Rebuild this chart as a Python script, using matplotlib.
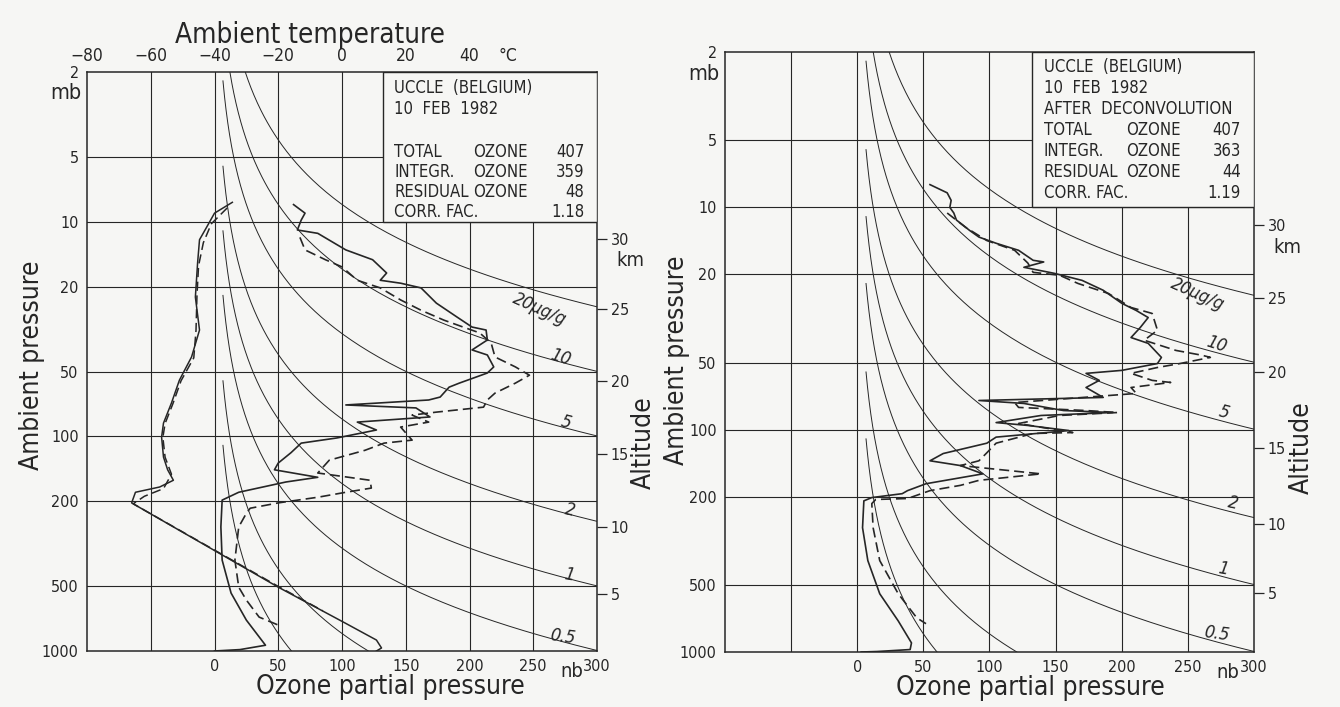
import numpy as np
import matplotlib.pyplot as plt
from matplotlib.patches import Rectangle
from matplotlib.ticker import NullLocator

plt.rcParams['font.family'] = ['DejaVu Sans']
plt.rcParams['font.stretch'] = 'condensed'

# ============================================================
# DATA
# ============================================================

P_TICKS = [2, 5, 10, 20, 50, 100, 200, 500, 1000]
OZ_TICKS = [0, 50, 100, 150, 200, 250, 300]
T_TICKS = [-80, -60, -40, -20, 0, 20, 40]
ALT_KM = [5, 10, 15, 20, 25, 30]
ALT_P = [540, 265, 121, 55, 25.5, 12]
MIX_RATIOS = [20, 10, 5, 2, 1, 0.5, 0.2, 0.1]
MIX_LABELS = ['20µg/g', '10', '5', '2', '1', '0.5']

# left panel - temperature (mb, degC)
TEMP_P_SOLID = [8.1, 9.1, 10.6, 12.1, 15.5, 22.4, 31.9, 42.6, 54.6, 69.8, 86.6,
                100.7, 124.8, 143, 160, 172, 182, 204, 504, 741, 889, 968, 1000]
TEMP_C_SOLID = [-34.4, -40, -42.5, -44.7, -45.3, -46, -44.7, -47.2, -51, -53.5, -56,
                -56.6, -56, -54.7, -52.9, -57.2, -64.8, -66, -20, 1, 10.8, 12.4, 10.8]
TEMP_P_DASH = [8.6, 10.2, 12.5, 16, 22, 32, 43, 55, 70, 87, 101, 125, 150, 175,
               190, 206, 500, 650]
TEMP_C_DASH = [-36, -41, -43.5, -45, -45.5, -45.8, -46.5, -50.5, -53, -55.5, -56.2,
               -55.5, -53.5, -56, -62, -65.5, -20, -6]

# left panel - ozone before deconvolution (mb, nb)
O3L_P_SOLID = [8.3, 9.1, 9.8, 10.9, 11.3, 13.5, 15.0, 17.3, 18.7, 19.3, 20.3, 23.9,
               27.7, 30.9, 31.9, 35.5, 39.5, 41.7, 47.4, 50.6, 56.4, 58.9, 65.5,
               67.6, 71.3, 73.6, 81.1, 85.7, 93.3, 101.6, 107.4, 119, 133, 143,
               155, 163, 182, 198, 264, 377, 537, 718, 940, 985, 1000]
O3L_SOLID = [62, 71, 68, 65, 81, 103, 124, 135, 130, 146, 162, 174,
             190, 202, 213, 214, 202, 214, 219, 214, 192, 184, 177,
             168, 103, 158, 169, 112, 127, 96, 68, 60, 50, 47,
             81, 56, 19, 6, 5, 6, 13, 25, 40, 20, 0]
O3L_P_DASH = [11.8, 13.5, 15.0, 16.2, 18.7, 20.3, 23.1, 25.8, 28.7, 30.9, 32.9,
              36.7, 42.6, 47.4, 51.8, 56.4, 62.8, 67.6, 73, 77, 79.5, 85.7, 90.4,
              104, 107.4, 116, 129, 148, 160, 174, 182, 192, 204, 216, 228, 264,
              377, 504, 579, 695, 757]
O3L_DASH = [67, 71, 87, 100, 112, 130, 146, 162, 180, 195, 208,
            217, 220, 236, 247, 236, 220, 214, 211, 174, 155, 168, 146,
            155, 133, 118, 90, 81, 122, 123, 103, 81, 50, 28, 25, 19,
            16, 19, 25, 35, 50]

# right panel - ozone after deconvolution (mb, nb)
O3R_P_SOLID = [7.9, 8.6, 9.3, 10.0, 10.6, 11.4, 12.7, 13.6, 14.5, 15.6, 17.3, 17.6,
               18.6, 19.8, 21.3, 23.6, 27.0, 29.1, 31.3, 34.7, 38.5, 40.9, 47.3,
               50.4, 54.1, 55.8, 60.0, 64.6, 71.6, 73.9, 76.2, 82.0, 83.7, 86.3,
               92.9, 95.7, 100.9, 108, 115, 128, 138, 145, 158, 175, 188, 194,
               202, 209, 276, 388, 547, 725, 910, 975, 995, 1000]
O3R_SOLID = [55, 68, 71, 70, 73, 75, 85, 92, 105, 122, 133, 141,
             126, 149, 170, 186, 200, 211, 220, 214, 207, 220, 230,
             227, 200, 173, 183, 173, 186, 92, 126, 156, 193, 139,
             105, 129, 160, 105, 98, 65, 55, 78, 95, 52, 38, 34,
             11, 5, 4, 8, 17, 31, 41, 40, 15, 3]
O3R_P_DASH = [10.6, 12.3, 14.1, 15.6, 17.8, 19.6, 20.2, 22.0, 24.4, 28.2, 30.0,
              35.7, 39.6, 44.0, 46.3, 47.3, 50.4, 52.5, 55.8, 60.0, 61.3, 64.6,
              68.7, 75.5, 79.4, 82.0, 83.7, 86.3, 93.8, 103, 104, 115, 127, 138,
              145, 158, 169, 178, 188, 204, 206, 215, 276, 388, 547, 702, 746]
O3R_DASH = [68, 82, 98, 119, 129, 133, 153, 167, 190, 207, 223,
            227, 217, 241, 261, 267, 244, 227, 207, 223, 237, 207,
            211, 119, 122, 173, 197, 153, 122, 163, 133, 105, 98, 92,
            78, 139, 92, 78, 55, 38, 14, 11, 12, 17, 31, 45, 52]

LEFT_BOX = [('UCCLE  (BELGIUM)', None, None), ('10  FEB  1982', None, None), ('', None, None),
            ('TOTAL', 'OZONE', '407'), ('INTEGR.', 'OZONE', '359'),
            ('RESIDUAL', 'OZONE', '48'), ('CORR. FAC.', None, '1.18')]
RIGHT_BOX = [('UCCLE  (BELGIUM)', None, None), ('10  FEB  1982', None, None),
             ('AFTER  DECONVOLUTION', None, None),
             ('TOTAL', 'OZONE', '407'), ('INTEGR.', 'OZONE', '363'),
             ('RESIDUAL', 'OZONE', '44'), ('CORR. FAC.', None, '1.19')]

# ============================================================
# STYLE
# ============================================================

INK = '#262626'
PAPER = '#f6f6f4'
LABEL_FS = 19
TICK_FS = 11.5
BOX_FS = 12

# ug/g -> nb per mb
O3_FACTOR = 28.96 / 48.0


def setup_panel(ax, box_rows, box_rows_p, label_pos, alt_label_xy):

    ax.set_facecolor(PAPER)
    ax.set_yscale('log')
    ax.set_xlim(-100, 300)
    ax.set_ylim(1000, 2)

    ax.set_yticks(P_TICKS, [str(p) for p in P_TICKS])
    ax.yaxis.set_minor_locator(NullLocator())
    ax.set_xticks(OZ_TICKS, [str(o) if o < 300 else '' for o in OZ_TICKS])
    ax.tick_params(length=0, labelsize=TICK_FS, colors=INK, pad=6)

    for s in ax.spines.values():
        s.set_color(INK)
        s.set_linewidth(1.1)

    # grid
    for x in range(-50, 300, 50):
        ax.axvline(x, color=INK, lw=0.8, zorder=1)
    for p in P_TICKS[1:-1]:
        ax.axhline(p, color=INK, lw=0.8, zorder=1)

    # mixing ratio lines
    for k in MIX_RATIOS:
        pp = np.geomspace(max(2.0, 11.0 / k), 1000, 300)
        ax.plot(k * pp * O3_FACTOR, pp, color=INK, lw=0.7, zorder=2)

    for txt, (xo, po, rot) in zip(MIX_LABELS, label_pos):
        ax.text(xo, po, txt, fontsize=13, style='italic', rotation=rot,
                ha='center', va='center', color=INK, zorder=3)

    # info box
    ax.add_patch(Rectangle((132, 2), 168, 8, facecolor=PAPER, edgecolor=INK,
                           lw=1.0, zorder=4))
    for (a, b, c), p in zip(box_rows, box_rows_p):
        ax.text(141, p, a, fontsize=BOX_FS, va='center', ha='left', color=INK, zorder=5)
        if b:
            ax.text(203, p, b, fontsize=BOX_FS, va='center', ha='left', color=INK, zorder=5)
        if c:
            ax.text(290, p, c, fontsize=BOX_FS, va='center', ha='right', color=INK, zorder=5)

    # "300", "nb", "mb", "km"
    ax.annotate('300', xy=(300, 0), xycoords=('data', 'axes fraction'),
                xytext=(0, -6), textcoords='offset points', ha='center', va='top',
                fontsize=TICK_FS, color=INK)
    ax.annotate('nb', xy=(280, 0), xycoords=('data', 'axes fraction'),
                xytext=(0, -8), textcoords='offset points', ha='center', va='top',
                fontsize=TICK_FS + 3, color=INK)
    ax.annotate('mb', xy=(0, 2.5), xycoords=('axes fraction', 'data'),
                xytext=(-4, 0), textcoords='offset points', ha='right', va='center',
                fontsize=TICK_FS + 4, color=INK)
    ax.annotate('km', xy=(1, 15.2), xycoords=('axes fraction', 'data'),
                xytext=(14, 0), textcoords='offset points', ha='left', va='center',
                fontsize=TICK_FS + 3, color=INK)

    ax.set_xlabel('Ozone partial pressure', fontsize=LABEL_FS, color=INK)
    ax.set_ylabel('Ambient pressure', fontsize=LABEL_FS, color=INK)

    # altitude scale
    sec = ax.secondary_yaxis('right')
    sec.set_yticks(ALT_P, [str(a) for a in ALT_KM])
    sec.yaxis.set_minor_locator(NullLocator())
    sec.tick_params(direction='out', length=7, width=0.9, labelsize=TICK_FS,
                    colors=INK, pad=3)
    sec.spines['right'].set_visible(False)
    ax.text(alt_label_xy[0], alt_label_xy[1], 'Altitude', transform=ax.transAxes,
            rotation=90, ha='center', va='center', fontsize=LABEL_FS, color=INK)


# ============================================================
# FIGURE
# ============================================================

fig = plt.figure(figsize=(13.4, 7.07), dpi=100, facecolor=PAPER)

ax1 = fig.add_axes([87 / 1340, 56 / 707, 510 / 1340, 579 / 707])
ax2 = fig.add_axes([725 / 1340, 55 / 707, 529 / 1340, 600 / 707])

LEFT_LABEL_POS = [(255, 25.5, -24), (271, 43, -18), (276, 86, -15),
                  (279, 220, -12), (278, 442, -10), (273, 860, -8)]
RIGHT_LABEL_POS = [(257, 24.5, -24), (272, 41.5, -18), (277, 84, -15),
                   (284, 214, -12), (277, 422, -10), (272, 828, -8)]

setup_panel(ax1, LEFT_BOX, [2.37, 2.97, 3.7, 4.72, 5.85, 7.24, 9.0],
            LEFT_LABEL_POS, (1.092, 0.36))
setup_panel(ax2, RIGHT_BOX, [2.34, 2.91, 3.61, 4.49, 5.58, 6.95, 8.6],
            RIGHT_LABEL_POS, (1.09, 0.34))

# axis label placement
ax1.yaxis.set_label_coords(-0.082, 0.494)
ax2.yaxis.set_label_coords(-0.066, 0.487)
ax1.xaxis.set_label_coords(0.594, -0.04)
ax2.xaxis.set_label_coords(0.577, -0.038)
ax1.xaxis.label.set_va('top')
ax2.xaxis.label.set_va('top')

# ozone profiles
ax1.plot(O3L_SOLID, O3L_P_SOLID, color=INK, lw=1.2, zorder=3)
ax1.plot(O3L_DASH, O3L_P_DASH, color=INK, lw=1.2, ls=(0, (6, 3)), zorder=3)
ax2.plot(O3R_SOLID, O3R_P_SOLID, color=INK, lw=1.2, zorder=3)
ax2.plot(O3R_DASH, O3R_P_DASH, color=INK, lw=1.2, ls=(0, (6, 3)), zorder=3)

# temperature axis (left panel)
axt = ax1.twiny()
axt.set_xlim(-80, 80)
axt.set_xticks(T_TICKS, [str(t).replace('-', '\u2212') for t in T_TICKS])
axt.tick_params(length=0, labelsize=TICK_FS + 1, colors=INK, pad=5)
for s in axt.spines.values():
    s.set_visible(False)
axt.plot(TEMP_C_SOLID, TEMP_P_SOLID, color=INK, lw=1.1, zorder=3)
axt.plot(TEMP_C_DASH, TEMP_P_DASH, color=INK, lw=1.1, ls=(0, (6, 3)), zorder=3)
axt.set_xlabel('Ambient temperature', fontsize=LABEL_FS + 1, color=INK)
axt.xaxis.set_label_coords(0.437, 1.064)
axt.xaxis.label.set_va('center')
axt.annotate('°C', xy=(52, 1), xycoords=('data', 'axes fraction'),
             xytext=(0, 5), textcoords='offset points', ha='center', va='bottom',
             fontsize=TICK_FS + 1, color=INK)

fig.savefig('out.png', dpi=100, facecolor=PAPER)
